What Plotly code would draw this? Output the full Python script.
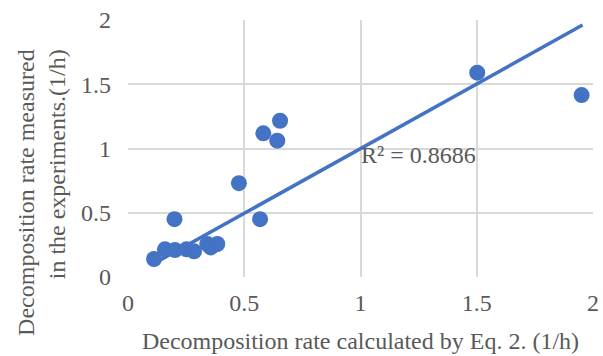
import plotly.graph_objects as go

calc_rate = [0.112, 0.159, 0.202, 0.252, 0.284, 0.341, 0.356, 0.384, 0.20, 0.477, 0.568, 0.582, 0.642, 0.654, 1.502, 1.951]
meas_rate = [0.14, 0.215, 0.21, 0.215, 0.20, 0.257, 0.23, 0.257, 0.45, 0.73, 0.45, 1.118, 1.061, 1.216, 1.59, 1.416]
trend_x = [0.112, 1.955]
trend_y = [0.105, 1.961]
r2_label = "R² = 0.8686"
x_title = "Decomposition rate calculated by Eq. 2. (1/h)"
y_title = "Decomposition rate measured<br>in the experiments.(1/h)"
tick_vals = [0, 0.5, 1, 1.5, 2]
tick_text = ["0", "0.5", "1", "1.5", "2"]

blue = "#4472C4"
gray = "#595959"
font = "Liberation Serif, Times New Roman, serif"
fs = 24

fig = go.Figure()
fig.add_trace(go.Scatter(x=trend_x, y=trend_y, mode="lines",
                         line=dict(color=blue, width=3.5), showlegend=False))
fig.add_trace(go.Scatter(x=calc_rate, y=meas_rate, mode="markers",
                         marker=dict(size=16, color=blue), showlegend=False))
fig.add_annotation(x=0.995, y=0.95, text=r2_label, showarrow=False, xanchor="left",
                   yanchor="middle", font=dict(family=font, size=fs, color=gray))
fig.add_annotation(x=-0.185, y=0.331, xref="paper", yref="paper", text=y_title,
                   textangle=-90, align="right", showarrow=False,
                   xanchor="center", yanchor="middle",
                   font=dict(family=font, size=fs, color=gray))

fig.update_layout(
    width=603, height=356,
    margin=dict(l=128, r=10, t=20, b=79),
    plot_bgcolor="white", paper_bgcolor="white",
    font=dict(family=font, size=fs, color=gray),
    xaxis=dict(range=[0, 2], tickvals=tick_vals, ticktext=tick_text, automargin=False,
               showgrid=True, gridcolor="#D9D9D9", gridwidth=1.5,
               zeroline=False, showline=False, ticklabelstandoff=9,
               title=dict(text=x_title, standoff=17, font=dict(size=fs, color=gray))),
    yaxis=dict(range=[0, 2], tickvals=tick_vals, ticktext=tick_text, automargin=False,
               showgrid=True, gridcolor="#D9D9D9", gridwidth=1.5,
               zeroline=False, showline=False, ticklabelstandoff=16),
)
fig.write_html("out.html", config={"displayModeBar": False},
               post_script="document.body.style.margin='0';window.dispatchEvent(new Event('resize'));")
